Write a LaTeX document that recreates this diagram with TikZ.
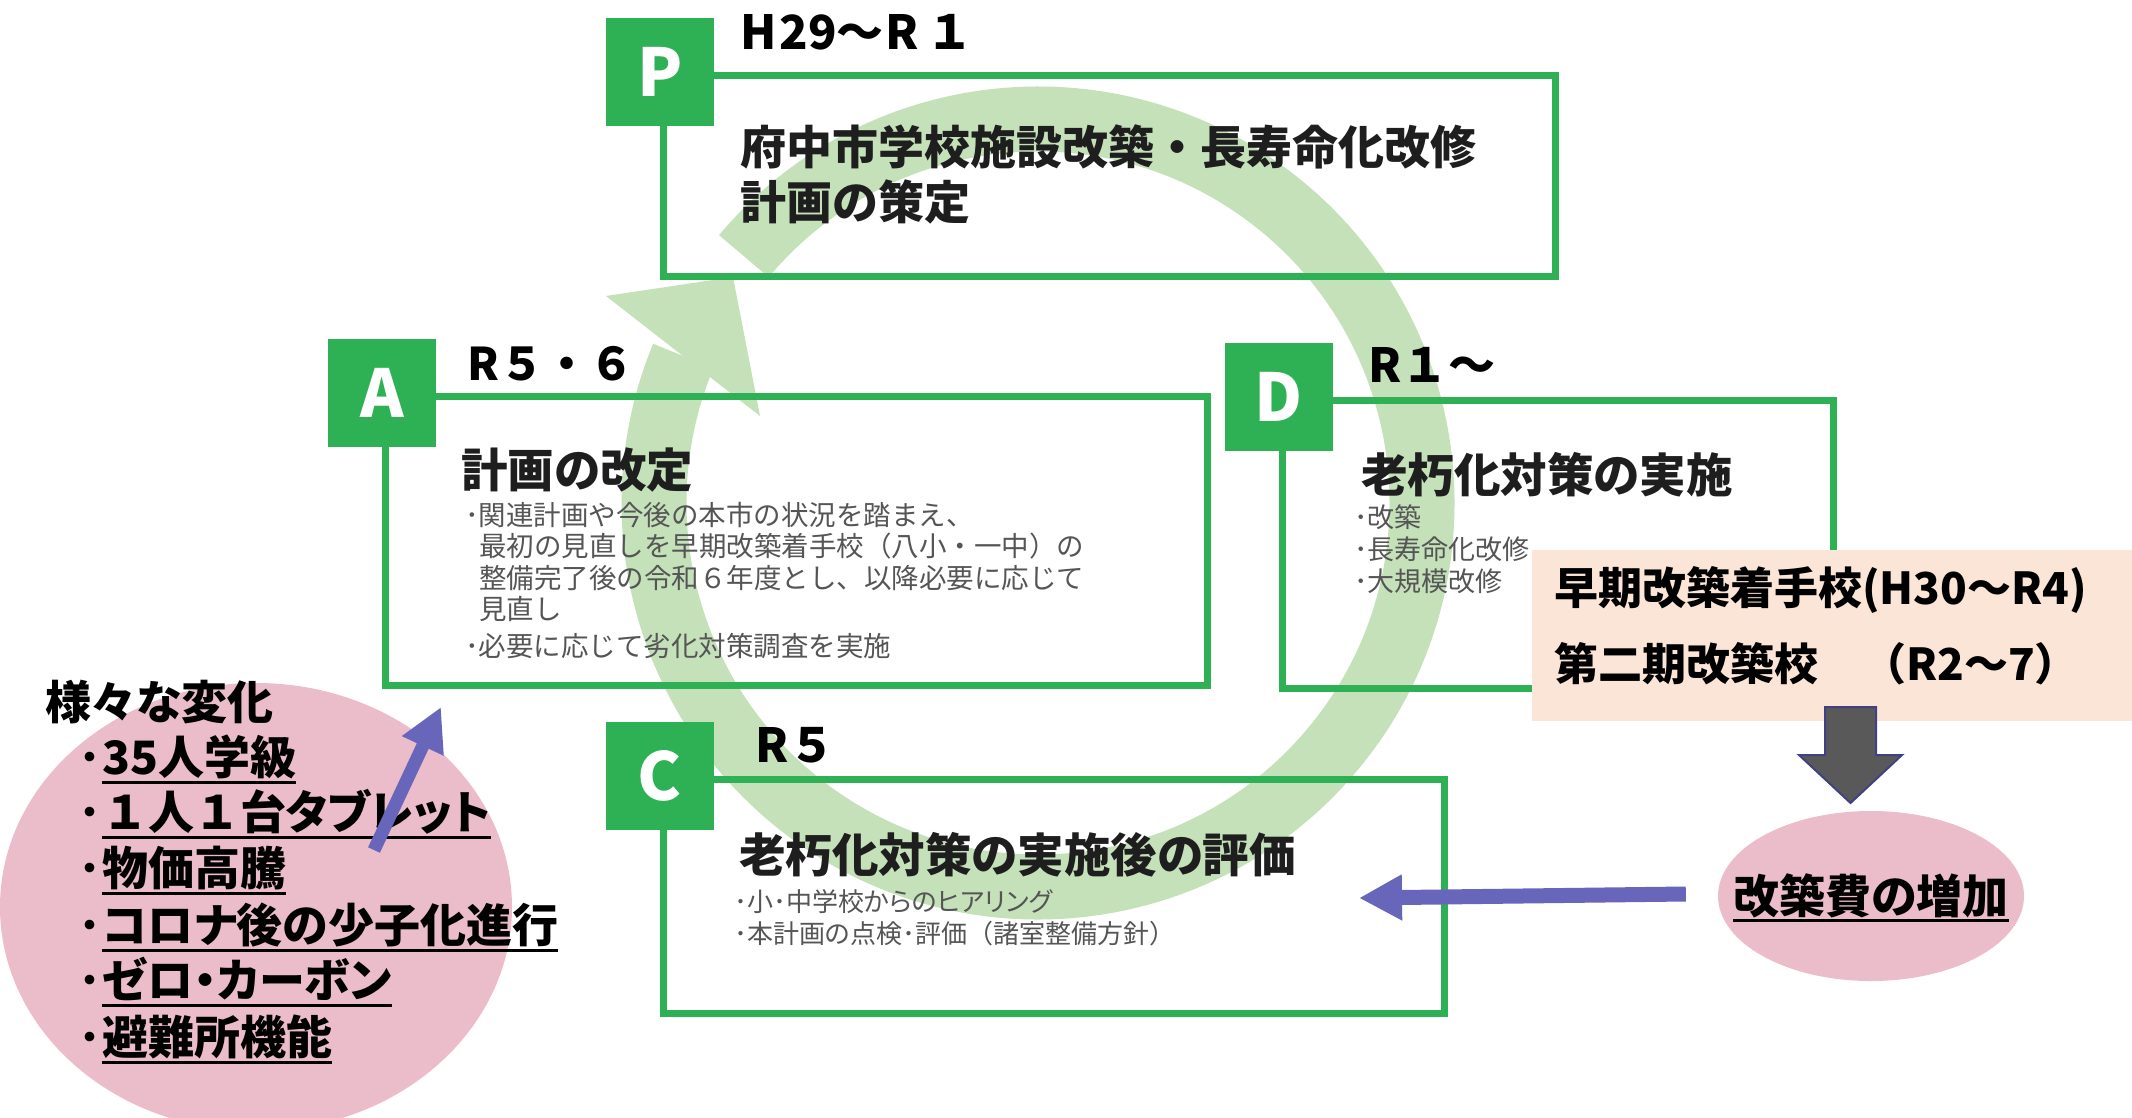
\documentclass[tikz,border=0pt]{standalone}
\usepackage{fontspec}
\setmainfont{Noto Sans CJK JP}
\newfontfamily\jpp{Noto Sans CJK JP}[RawFeature=+palt]
\usetikzlibrary{arrows.meta,calc,shapes.geometric}
\definecolor{boxgreen}{RGB}{46,177,85}
\definecolor{ringgreen}{RGB}{196,225,185}
\definecolor{peach}{RGB}{251,229,214}
\definecolor{pinkfill}{RGB}{235,188,201}
\definecolor{purplearrow}{RGB}{104,102,187}
\definecolor{arrowgray}{RGB}{89,89,89}
\definecolor{arrowedge}{RGB}{64,64,130}
\definecolor{bodygray}{RGB}{85,85,85}
\definecolor{titleblack}{RGB}{30,30,30}
\newcommand\fsz[1]{\fontsize{#1}{#1}\selectfont}
\begin{document}
\begin{tikzpicture}[x=1pt,y=-1pt,
  box/.style={draw=boxgreen, line width=7pt, rectangle, inner sep=0pt, anchor=north west},
  tag/.style={fill=boxgreen, minimum size=108pt, inner sep=0pt, text=white, font=\bfseries\fsz{66}},
  period/.style={anchor=base west, inner sep=0pt, font=\bfseries\fsz{47}, text=black},
  title/.style={anchor=base west, inner sep=0pt, font=\jpp\bfseries\fsz{46.5}, text=titleblack},
  ptitle/.style={anchor=base west, inner sep=0pt, font=\bfseries\fsz{46}, text=titleblack},
  abody/.style={anchor=base west, inner sep=0pt, font=\fsz{27.5}, text=bodygray},
  dbody/.style={anchor=base west, inner sep=0pt, font=\jpp\fsz{27}, text=bodygray},
  cbody/.style={anchor=base west, inner sep=0pt, font=\jpp\fsz{26}, text=bodygray},
  peachtext/.style={anchor=base west, inner sep=0pt, font=\bfseries\fsz{44}, text=black},
  listitem/.style={anchor=base west, inner sep=0pt, font=\jpp\bfseries\fsz{46}, text=black},
  listbullet/.style={anchor=base east, inner sep=0pt, font=\jpp\bfseries\fsz{46}, text=black},
  uline/.style={draw=black, line width=3pt},
  parrow/.style={draw=purplearrow, -{Triangle[length=43pt,width=43pt]}}
]
\useasboundingbox (0,0) rectangle (2132,1118);
\fill[white] (0,0) rectangle (2132,1118);

% left pink ellipse
\node[ellipse, fill=pinkfill, minimum width=512pt, minimum height=448pt, inner sep=0pt] (changes) at (256,907) {};

% cycle ring
\coordinate (rc) at (1038,503);
\draw[ringgreen, line width=65pt] ($(rc)+(-140:384)$) arc[start angle=-140, end angle=202.5, radius=384];
\fill[ringgreen] (606,296) -- (733,277) -- (760,416) -- cycle;

% boxes
\node[box, minimum width=892pt, minimum height=201pt] (pbox) at (660,72) {};
\node[box, minimum width=822pt, minimum height=289pt] (abox) at (382,393) {};
\node[box, minimum width=551pt, minimum height=288pt] (dbox) at (1279,397) {};
\node[box, minimum width=781pt, minimum height=234pt] (cbox) at (660,776) {};

\node[tag] (ptag) at (pbox.north west) {P};
\node[tag] (atag) at (abox.north west) {A};
\node[tag] (dtag) at (dbox.north west) {D};
\node[tag] (ctag) at (cbox.north west) {C};

% period labels
\node[period] (pper) at (740,50) {H\hspace{3pt}29～\hspace{2pt}R\hspace{7pt}１};
\node[period, font=\bfseries\fsz{45}] (aper) at (467,380) {R５・６};
\node[period] (dper) at (1368,382) {R１～};
\node[period] (cper) at (755,762) {R５};

% P box
\node[ptitle] (pt1) at (740,165) {府中市学校施設改築・長寿命化改修};
\node[ptitle] (pt2) at (740,219) {計画の策定};

% A box
\node[title] (at1) at (461,487) {計画の改定};
\node[abody] (al1) at (465,525) {･関連計画や今後の本市の状況を踏まえ、};
\node[abody] (al2) at (479,556) {最初の見直しを早期改築着手校（八小・一中）の};
\node[abody] (al3) at (479,588) {整備完了後の令和６年度とし、以降必要に応じて};
\node[abody] (al4) at (479,619) {見直し};
\node[abody] (al5) at (465,656) {･必要に応じて劣化対策調査を実施};

% D box
\node[title] (dt1) at (1361,492) {老朽化対策の実施};
\node[dbody] (dl1) at (1354,527) {･改築};
\node[dbody] (dl2) at (1354,559) {･長寿命化改修};
\node[dbody] (dl3) at (1354,591) {･大規模改修};

% C box
\node[title] (ct1) at (739,872) {老朽化対策の実施後の評価};
\node[cbody] (cl1) at (734,911) {･小･中学校からのヒアリング};
\node[cbody] (cl2) at (734,943) {･本計画の点検･評価{\rmfamily （}諸室整備方針{\rmfamily ）}};

% peach box
\node[fill=peach, anchor=north west, minimum width=600pt, minimum height=171pt, inner sep=0pt] (peachbox) at (1532,550) {};
\node[peachtext] (pk1) at (1554,604) {早期改築着手校(H30～R4)};
\node[peachtext] (pk2) at (1554,680) {第二期改築校　（R2～7）};

% gray block arrow
\filldraw[fill=arrowgray, draw=arrowedge, line width=2pt] (1825,707) -- (1876,707) -- (1876,755) -- (1902,755) -- (1850.5,803) -- (1799,755) -- (1825,755) -- cycle;

% cost ellipse
\node[ellipse, fill=pinkfill, minimum width=306pt, minimum height=170pt, inner sep=0pt] (cost) at (1871,896) {};
\node[anchor=base, inner sep=0pt, font=\jpp\bfseries\fsz{46}, text=black] (costtext) at (1871,913) {改築費の増加};
\draw[uline] ([yshift=-7pt]costtext.base west) -- ([yshift=-7pt]costtext.base east);

% left list
\node[listitem] (head) at (45,719) {様々な変化};
\foreach \t/\yb [count=\i] in {35人学級/774, {\rmfamily １}人{\rmfamily １}台タブレット/829, 物価高騰/885, コロナ後の少子化進行/942, ゼロ・カーボン/997, 避難所機能/1054}{
  \node[listitem] (item\i) at (102,\yb) {\t};
  \node[listbullet] (bul\i) at (item\i.base west) {･};
  \draw[uline] ([yshift=-8pt]item\i.base west) -- ([yshift=-8pt]item\i.base east);
}

% purple arrows
\coordinate (htail) at ($(cost.west)+(-32,-2)$);
\coordinate (htip) at (1359,898);
\draw[parrow, line width=15pt] (htail) -- (htip);
\coordinate (dtail) at (374,850);
\coordinate (dtip) at (441,707);
\draw[parrow, line width=13pt] (dtail) -- (dtip);
\end{tikzpicture}
\end{document}
